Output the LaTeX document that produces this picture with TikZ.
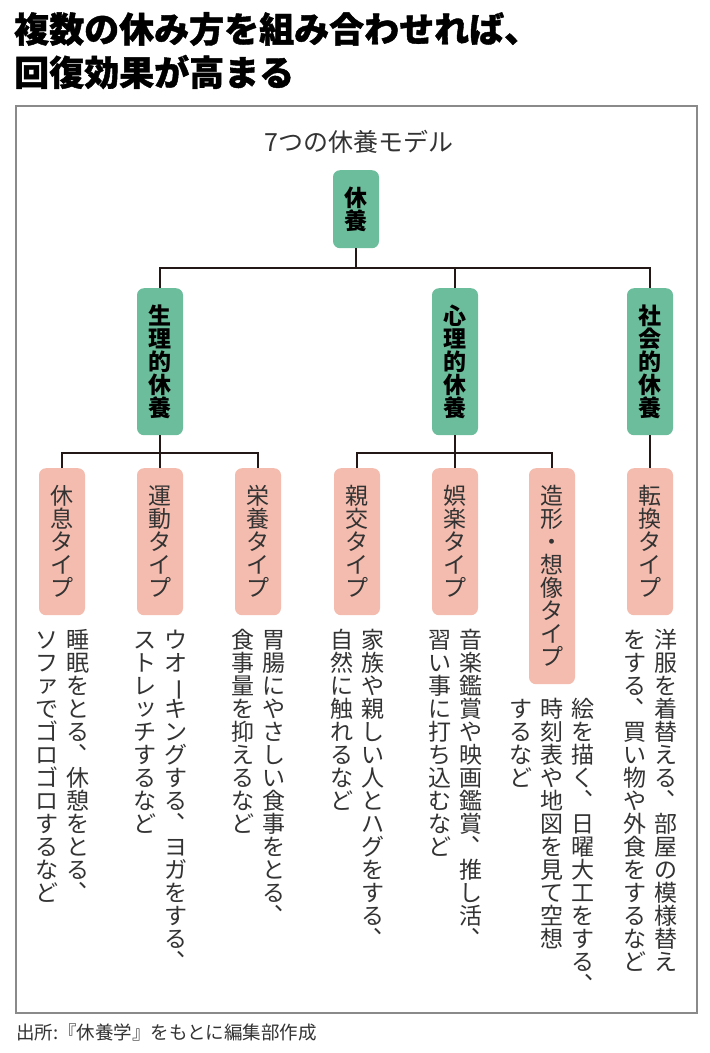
\documentclass[tikz,border=0pt]{standalone}
\usepackage{fontspec}
\usepackage{graphicx}
\usetikzlibrary{positioning}
\setmainfont{Noto Sans CJK JP}
\newfontfamily\headfont{Noto Sans CJK JP}[BoldFeatures={FakeBold=1.2}]
\definecolor{kyuyogreen}{HTML}{6BBD9C}
\definecolor{typepink}{HTML}{F4BCAE}
\definecolor{inkline}{HTML}{231815}
\definecolor{textgray}{HTML}{333333}
\definecolor{framegray}{HTML}{8A8A8A}
% vertical (tategaki) columns built from upright cells, 1em each
\ExplSyntaxOn
\cs_new_protected:Npn \tate_cell:n #1
  { \hbox_to_wd:nn { 1em } { \vrule width 0pt height 0.88em depth 0.12em \hss \smash{#1} \hss } }
\cs_new_protected:Npn \tate_char:n #1
  {
    \str_case:nnF {#1}
      {
        { 、 } { \hbox_to_wd:nn { 1em } { \vrule width 0pt height 0.88em depth 0.12em
                 \kern 0.55em \raisebox{0.62em}[0pt][0pt]{、} \hss } }
        { ー } { \tate_cell:n { \rotatebox[origin=c]{-90}{ー} } }
        { ァ } { \tate_cell:n { \kern 0.12em \raisebox{0.1em}{ァ} } }
        { ッ } { \tate_cell:n { \kern 0.12em \raisebox{0.1em}{ッ} } }
      }
      { \tate_cell:n {#1} }
  }
\cs_new_protected:Npn \tate_column:n #1
  {
    \vtop
      {
        \baselineskip 1em \lineskip 0pt \lineskiplimit -\maxdimen
        \tl_map_inline:nn {#1} { \tate_char:n {##1} }
      }
  }
\cs_generate_variant:Nn \tate_column:n { V }
\seq_new:N \l_tate_lines_seq
\seq_new:N \l_tate_cols_seq
\NewDocumentCommand \tate { m } { \tate_column:n {#1} }
\NewDocumentCommand \tatemacro { m } { \tate_column:V #1 }
\NewDocumentCommand \tatelines { m }
  {
    \seq_set_split:Nnn \l_tate_lines_seq { \\ } {#1}
    \seq_reverse:N \l_tate_lines_seq
    \seq_set_map:NNn \l_tate_cols_seq \l_tate_lines_seq { \tate_column:n {##1} }
    \hbox:n { \seq_use:Nn \l_tate_cols_seq { \kern 8pt } }
  }
\ExplSyntaxOff
\tikzset{
    x=1pt, y=-1pt,
    headline/.style={anchor=west, inner sep=0pt, font=\fontsize{35}{40}\selectfont\headfont\bfseries},
    subhead/.style={inner sep=0pt, text=textgray, font=\fontsize{25}{28}\selectfont},
    srcline/.style={anchor=west, inner sep=0pt, text=textgray, font=\fontsize{18.5}{22}\selectfont},
    tatebox/.style={anchor=north, rounded corners=7pt, minimum width=46pt,
        inner xsep=0pt, inner ysep=16pt, font=\fontsize{23}{28}\selectfont},
    rootbox/.style={tatebox, fill=kyuyogreen, font=\fontsize{23}{28}\selectfont\bfseries},
    groupbox/.style={rootbox},
    typebox/.style={tatebox, fill=typepink, text=textgray},
    desc/.style={inner sep=0pt, text=textgray, font=\fontsize{23}{31}\selectfont},
    branch/.style={draw=inkline, line width=1.6pt},
}
\begin{document}
\begin{tikzpicture}
    \useasboundingbox[fill=white] (0,0) rectangle (710,1053);

    % title and frame
    \node[headline] (title1) at (14,29) {複数の休み方を組み合わせれば、};
    \node[headline] (title2) at (14,72) {回復効果が高まる};
    \draw[framegray, line width=1.2pt] (16,106) rectangle (697,1013);
    \node[subhead] (modeltitle) at (359,142) {7つの休養モデル};
    \node[srcline] (source) at (16,1032) {出所:『休養学』をもとに編集部作成};

    % tree
    \node[rootbox] (kyuyo) at (356,170) {\tate{休養}};
    \node[groupbox] (seiri) at (160,288) {\tate{生理的休養}};
    \node[groupbox] (shinri) at (455,288) {\tate{心理的休養}};
    \node[groupbox] (shakai) at (650,288) {\tate{社会的休養}};
    \foreach \nm/\x/\txt in {kyusoku/62/休息タイプ, undo/160/運動タイプ, eiyo/258/栄養タイプ,
        shinko/357/親交タイプ, goraku/455/娯楽タイプ, zokei/552/造形・想像タイプ, tenkan/650/転換タイプ}
        \node[typebox] (\nm) at (\x,468) {\tatemacro{\txt}};

    \coordinate (bar1) at (0,268);
    \coordinate (bar2) at (0,453);
    \draw[branch] (kyuyo.south) -- (kyuyo.south |- bar1);
    \draw[branch] (seiri.north) |- (shakai.north |- bar1) -- (shakai.north);
    \draw[branch] (shinri.north) -- (shinri.north |- bar1);
    \draw[branch] (kyusoku.north) |- (eiyo.north |- bar2) -- (eiyo.north);
    \draw[branch] (seiri.south) -- (undo.north);
    \draw[branch] (shinko.north) |- (zokei.north |- bar2) -- (zokei.north);
    \draw[branch] (shinri.south) -- (goraku.north);
    \draw[branch] (shakai.south) -- (tenkan.north);

    % descriptions
    \node[desc, below=13pt of kyusoku] (kyusoku-d) {\tatelines{睡眠をとる、休憩をとる、\\ソファでゴロゴロするなど}};
    \node[desc, below=13pt of undo] (undo-d) {\tatelines{ウオーキングする、ヨガをする、\\ストレッチするなど}};
    \node[desc, below=13pt of eiyo] (eiyo-d) {\tatelines{胃腸にやさしい食事をとる、\\食事量を抑えるなど}};
    \node[desc, below=13pt of shinko] (shinko-d) {\tatelines{家族や親しい人とハグをする、\\自然に触れるなど}};
    \node[desc, below=13pt of goraku] (goraku-d) {\tatelines{音楽鑑賞や映画鑑賞、推し活、\\習い事に打ち込むなど}};
    \node[desc, below=13pt of zokei] (zokei-d) {\tatelines{絵を描く、日曜大工をする、\\時刻表や地図を見て空想\\するなど}};
    \node[desc, below=13pt of tenkan] (tenkan-d) {\tatelines{洋服を着替える、部屋の模様替え\\をする、買い物や外食をするなど}};
\end{tikzpicture}
\end{document}
